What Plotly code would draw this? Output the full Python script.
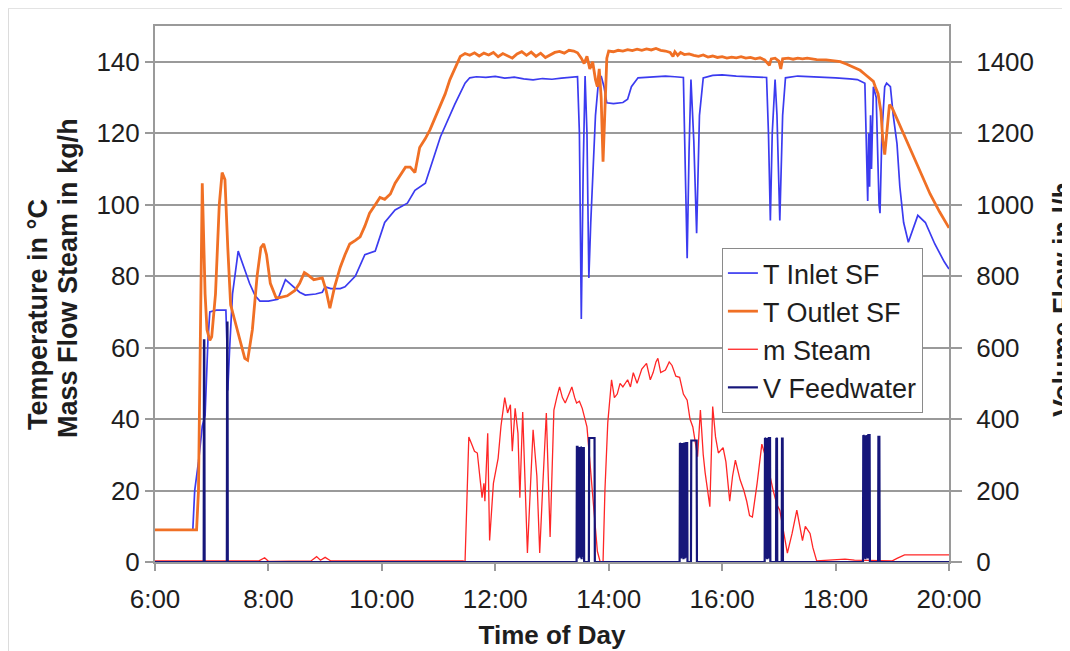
import plotly.graph_objects as go

# ---------------- data ----------------
DAY = "2000-01-01 "

inlet_t = ["06:00", "06:40", "06:42", "06:46", "06:50", "06:53", "06:56", "06:58", "07:05", "07:15",
           "07:16", "07:17", "07:19", "07:22", "07:28", "07:33", "07:40", "07:46", "07:51", "08:00",
           "08:10", "08:18", "08:26", "08:33", "08:39", "08:50", "08:57", "09:00", "09:06", "09:16",
           "09:21", "09:32", "09:42", "09:53", "10:03", "10:14", "10:27", "10:35", "10:46", "10:51",
           "11:02", "11:17", "11:28", "11:33", "11:40", "11:50", "12:00", "12:10", "12:20", "12:30",
           "12:40", "12:50", "13:00", "13:10", "13:20", "13:27", "13:29", "13:31", "13:33", "13:35",
           "13:37", "13:39", "13:41", "13:43", "13:46", "13:49", "13:52", "13:55", "13:58", "14:05",
           "14:15", "14:20", "14:24", "14:31", "14:45", "15:00", "15:10", "15:19", "15:21", "15:23",
           "15:25", "15:27", "15:30", "15:33", "15:36", "15:40", "15:50", "16:00", "16:15", "16:30",
           "16:47", "16:49", "16:51", "16:53", "16:56", "16:58", "17:01", "17:04", "17:07", "17:20",
           "17:40", "18:00", "18:15", "18:23", "18:31", "18:33", "18:34", "18:35", "18:36", "18:37",
           "18:38", "18:40", "18:43", "18:46", "18:47", "18:49", "18:52", "18:54", "18:58", "19:01",
           "19:05", "19:08", "19:12", "19:17", "19:22", "19:27", "19:35", "19:45", "19:55", "20:00"]
inlet_v = [9, 9, 20, 28, 38, 41, 62, 70, 70.5, 70.5,
           62, 48, 60, 75, 87, 83, 78, 74.5, 73, 73,
           73.5, 79, 77, 75.5, 74.7, 75, 75.5, 77, 76.5, 76.5,
           77, 80, 86, 87, 95, 98.5, 100.4, 104, 106, 110,
           119, 128, 134, 135.5, 135.8, 135.6, 135.9, 135.4, 135.7, 135.2,
           134.9, 135.3, 135.1, 135.4, 135.6, 135.8, 120, 68, 110, 136,
           120, 79.5, 95, 106, 125, 134, 136, 133, 128.5, 128.3,
           128.6, 129.5, 133, 135.5, 135.8, 136, 135.8, 135.6, 110, 85,
           115, 135, 118, 92, 125, 135.5, 136.2, 136.3, 136, 135.9,
           135.6, 120, 95.6, 120, 135, 125, 95.6, 125, 135.5, 136,
           135.8, 135.5, 135.2, 135, 134, 110, 101, 120, 105, 125,
           110, 133, 130, 100, 97.6, 120, 133, 134, 133, 125,
           117, 105, 95, 89.5, 93, 97, 95, 89, 84, 82]

outlet_t = ["06:00", "06:44", "06:46", "06:50", "06:53", "06:55", "06:58", "07:00", "07:04", "07:08",
            "07:11", "07:14", "07:17", "07:20", "07:24", "07:30", "07:35", "07:38", "07:43", "07:48",
            "07:52", "07:55", "07:58", "08:02", "08:08", "08:12", "08:20", "08:28", "08:33", "08:38",
            "08:41", "08:48", "08:57", "09:01", "09:05", "09:10", "09:16", "09:21", "09:26", "09:32",
            "09:37", "09:42", "09:47", "09:53", "09:58", "10:03", "10:09", "10:14", "10:19", "10:25",
            "10:30", "10:35", "10:40", "10:46", "10:51", "10:56", "11:02", "11:07", "11:12", "11:17",
            "11:23", "11:28", "11:33", "11:38", "11:43", "11:48", "11:53", "11:58", "12:03", "12:08",
            "12:13", "12:18", "12:23", "12:28", "12:33", "12:38", "12:43", "12:48", "12:53", "12:58",
            "13:03", "13:08", "13:13", "13:18", "13:23", "13:27", "13:31", "13:34", "13:37", "13:40",
            "13:43", "13:46", "13:48", "13:50", "13:52", "13:54", "13:56", "13:58", "14:00", "14:05",
            "14:10", "14:15", "14:20", "14:25", "14:30", "14:35", "14:40", "14:45", "14:50", "14:55",
            "15:00", "15:05", "15:08", "15:10", "15:13", "15:16", "15:20", "15:25", "15:30", "15:35",
            "15:40", "15:45", "15:50", "15:55", "16:00", "16:05", "16:10", "16:15", "16:20", "16:25",
            "16:30", "16:35", "16:40", "16:45", "16:50", "16:52", "16:56", "17:00", "17:02", "17:04",
            "17:10", "17:15", "17:20", "17:25", "17:30", "17:40", "17:50", "18:00", "18:05", "18:12",
            "18:19", "18:26", "18:31", "18:36", "18:40", "18:42", "18:45", "18:48", "18:50", "18:52",
            "18:54", "18:57", "19:00", "19:10", "19:20", "19:30", "19:40", "19:50", "20:00"]
outlet_v = [9, 9, 20, 106, 75, 65, 62, 63, 75, 100,
            109, 107, 88, 72, 68, 62, 57, 56.5, 65, 80,
            88, 89, 86, 78, 74, 74, 74.5, 76, 78, 81,
            80.5, 79, 79.5, 76, 71, 77, 82.5, 86, 89, 90,
            91, 94, 97.6, 100, 102, 101.5, 103, 106, 108, 110.5,
            110.5, 109, 116, 118.5, 121, 124, 128, 131, 135, 138,
            141.5, 142.3, 141.8, 142.5, 141.6, 142.4, 141.9, 142.6, 141.4, 142.3,
            141.7, 141.0, 142.2, 142.8, 141.8, 142.7, 141.5, 142.4, 141.2, 142.0,
            142.6, 142.9, 142.4, 143.2, 143.0, 142.5, 141.0, 139.5, 141.5, 138,
            140, 135, 133, 138, 130, 112, 125, 141, 143, 142.8,
            143.2, 143.0, 143.4, 143.1, 143.5, 143.2, 143.6, 143.3, 143.7, 143.2,
            143.0, 142.6, 141.5, 142.8, 141.8, 142.6, 142.0, 142.2, 141.8, 141.5,
            141.9, 141.3, 141.6, 141.2, 141.4, 141.0, 141.3, 141.1, 141.4, 141.0,
            141.2, 140.8, 141.1, 140.5, 139.0, 140.8, 141.0, 140.2, 138.0, 140.8,
            141.0, 140.7, 141.0, 140.8, 141.0, 140.6, 140.5, 140.3, 140.0, 139.3,
            138.5, 137.6, 136.5, 135.5, 134.5, 133.0, 131, 126, 118, 114,
            120, 128, 127, 121, 115, 109, 103, 98, 93.5]

steam_t = ["06:00", "07:50", "07:56", "08:00", "08:45", "08:51", "08:55", "09:00", "09:06", "11:26",
           "11:28", "11:32", "11:35", "11:38", "11:41", "11:44", "11:46", "11:48", "11:49", "11:52",
           "11:54", "11:58", "12:03", "12:06", "12:10", "12:13", "12:16", "12:18", "12:21", "12:24",
           "12:26", "12:29", "12:31", "12:34", "12:37", "12:40", "12:44", "12:47", "12:50", "12:54",
           "12:58", "13:02", "13:05", "13:08", "13:11", "13:14", "13:18", "13:21", "13:24", "13:26",
           "13:29", "13:32", "13:37", "13:42", "13:48", "13:51", "13:54", "13:56", "13:59", "14:03",
           "14:06", "14:09", "14:12", "14:15", "14:20", "14:23", "14:26", "14:30", "14:35", "14:40",
           "14:44", "14:47", "14:50", "14:52", "14:55", "15:00", "15:04", "15:07", "15:11", "15:15",
           "15:19", "15:23", "15:26", "15:29", "15:32", "15:34", "15:37", "15:40", "15:42", "15:45",
           "15:47", "15:50", "15:53", "15:56", "16:01", "16:04", "16:08", "16:11", "16:14", "16:19",
           "16:23", "16:26", "16:29", "16:32", "16:37", "16:42", "16:47", "16:54", "16:58", "17:01",
           "17:05", "17:09", "17:14", "17:19", "17:25", "17:28", "17:33", "17:36", "17:40", "18:00",
           "18:10", "18:20", "18:30", "19:00", "19:05", "19:13", "20:00"]
steam_v = [0.3, 0.3, 1.2, 0.2, 0.3, 1.5, 0.5, 1.3, 0.3, 0.3,
           0, 35, 33, 31, 30.5, 24, 18, 22, 17, 36,
           6, 22, 29, 38, 46, 41.7, 44, 31, 43, 36,
           18, 42, 25, 2.5, 20, 37, 24, 2.5, 20, 41.7,
           7, 42.5, 46, 49, 46, 44.5, 47, 49, 46, 44.5,
           45, 43, 37.8, 23, 3, 0, 0, 20, 39, 51,
           46, 47, 50, 49, 51, 49, 53, 50, 54, 55.6,
           51, 53, 56, 57, 53, 53.7, 56, 55, 52, 51.7,
           47, 45.3, 40, 37.8, 33, 29.5, 42.5, 30, 25, 20,
           15.5, 43.5, 35, 30.5, 32, 28, 17, 24, 28.5, 23,
           20, 17, 13, 12.6, 22, 33, 28.5, 20, 16, 14.5,
           8, 2.5, 8, 14.5, 6, 10, 8, 4, 0.3, 0.5,
           0.8, 0.5, 0.5, 0.3, 1, 2, 2]

feed_t = ["06:00:00", "06:51:30", "06:51:50", "06:52:10", "06:52:30", "07:16:00", "07:16:20", "07:16:40", "07:17:00",
          "13:26:00", "13:26:20", "13:27:00", "13:27:20", "13:27:40", "13:28:20", "13:28:40", "13:29:00", "13:29:40",
          "13:30:00", "13:30:20", "13:31:00", "13:31:20", "13:31:40", "13:32:20", "13:32:40", "13:33:00", "13:33:40",
          "13:34:00", "13:39:00", "13:39:20", "13:45:00", "13:45:20",
          "15:15:00", "15:15:20", "15:16:00", "15:16:20", "15:16:40", "15:17:20", "15:17:40", "15:18:00", "15:18:40",
          "15:19:00", "15:19:20", "15:20:00", "15:20:20", "15:20:40", "15:21:20", "15:21:40", "15:22:00", "15:23:00",
          "15:23:20", "15:27:00", "15:27:20", "15:33:00", "15:33:20",
          "16:45:00", "16:45:20", "16:46:00", "16:46:20", "16:46:40", "16:47:20", "16:47:40", "16:48:00", "16:48:40",
          "16:49:00", "16:49:20", "16:50:40", "16:51:00", "16:57:00", "16:57:20", "16:58:00", "16:58:20",
          "17:03:00", "17:03:20", "17:04:00", "17:04:20",
          "18:29:00", "18:29:20", "18:30:00", "18:30:20", "18:30:40", "18:31:20", "18:31:40", "18:32:00", "18:32:40",
          "18:33:00", "18:33:20", "18:34:00", "18:34:20", "18:34:40", "18:36:00", "18:36:20",
          "18:45:00", "18:45:20", "18:46:20", "18:46:40", "20:00:00"]
feed_v = [0, 0, 620, 620, 0, 0, 670, 670, 0,
          0, 322, 322, 10, 318, 322, 15, 320, 322,
          12, 322, 320, 8, 322, 322, 14, 320, 322,
          0, 0, 347, 347, 0,
          0, 333, 330, 10, 333, 333, 12, 330, 333,
          8, 333, 331, 10, 333, 333, 12, 333, 333,
          0, 0, 340, 340, 0,
          0, 347, 345, 10, 347, 347, 8, 345, 347,
          10, 347, 347, 0, 0, 347, 345, 0,
          0, 345, 345, 0,
          0, 355, 352, 10, 355, 355, 8, 352, 355,
          12, 355, 353, 10, 355, 355, 0,
          0, 350, 350, 0, 0]

left_ticks = [0, 20, 40, 60, 80, 100, 120, 140]
right_ticks = [0, 200, 400, 600, 800, 1000, 1200, 1400]


def ts(lst):
    return [DAY + t for t in lst]


FONT = "Liberation Sans, Arial, sans-serif"
GRID = "#9a9a9a"
TXT = "#1e1e1e"

fig = go.Figure()
fig.add_trace(go.Scatter(x=ts(inlet_t), y=inlet_v, name="T Inlet SF", mode="lines",
                         line=dict(color="#3B3BF0", width=1.7)))
fig.add_trace(go.Scatter(x=ts(outlet_t), y=outlet_v, name="T Outlet SF", mode="lines",
                         line=dict(color="#F07025", width=2.8)))
fig.add_trace(go.Scatter(x=ts(steam_t), y=steam_v, name="m Steam", mode="lines",
                         line=dict(color="#FF2626", width=1.3)))
fig.add_trace(go.Scatter(x=ts(feed_t), y=feed_v, name="V Feedwater", mode="lines", yaxis="y2",
                         line=dict(color="#16167A", width=2.2)))

# the page body adds an 8 px margin, so the figure is 8 px smaller and shifted
fig.update_layout(
    width=1062, height=643,
    margin=dict(l=147, r=121, t=18, b=89, autoexpand=False),
    paper_bgcolor="white", plot_bgcolor="white",
    font=dict(family=FONT, color=TXT, size=26),
    showlegend=True,
    legend=dict(x=0.714, y=0.5858, xanchor="left", yanchor="top",
                bgcolor="white", bordercolor="#8a8a8a", borderwidth=1,
                font=dict(family=FONT, size=27, color=TXT),
                itemwidth=30, tracegroupgap=0),
    xaxis=dict(type="date", range=[DAY + "06:00", DAY + "20:00"],
               tick0=DAY + "06:00", dtick=7200000, tickformat="%-H:%M",
               ticks="outside", ticklen=7, tickwidth=1.5, tickcolor=GRID,
               ticklabelstandoff=6, automargin=False,
               showline=True, linecolor=GRID, linewidth=2, mirror=True,
               showgrid=False, zeroline=False,
               tickfont=dict(size=26, family=FONT, color=TXT),
               title=dict(text="<b>Time of Day</b>", font=dict(size=26, family=FONT, color=TXT),
                          standoff=13)),
    yaxis=dict(range=[0, 150], tickvals=left_ticks, automargin=False,
               ticks="outside", ticklen=8, tickwidth=1.5, tickcolor=GRID,
               showline=True, linecolor=GRID, linewidth=2, mirror=True,
               showgrid=True, gridcolor=GRID, gridwidth=2, zeroline=False,
               tickfont=dict(size=26, family=FONT, color=TXT)),
    yaxis2=dict(range=[0, 1500], tickvals=right_ticks, overlaying="y", side="right",
                automargin=False,
                ticks="outside", ticklen=12, tickwidth=1.5, tickcolor=GRID,
                ticklabelstandoff=9,
                showline=False, showgrid=False, zeroline=False,
                tickfont=dict(size=26, family=FONT, color=TXT)),
    annotations=[
        dict(text="<b>Temperature in °C</b>", xref="paper", yref="paper",
             x=-0.1474, y=0.4627, xanchor="center", yanchor="middle", textangle=-90,
             showarrow=False, font=dict(size=27, family=FONT, color=TXT)),
        dict(text="<b>Mass Flow Steam in kg/h</b>", xref="paper", yref="paper",
             x=-0.1096, y=0.5299, xanchor="center", yanchor="middle", textangle=-90,
             showarrow=False, font=dict(size=27, family=FONT, color=TXT)),
        dict(text="<b>Volume Flow in l/h</b>", xref="paper", yref="paper",
             x=1.1436, y=0.4888, xanchor="center", yanchor="middle", textangle=-90,
             showarrow=False, font=dict(size=27, family=FONT, color=TXT)),
    ],
    shapes=[
        dict(type="rect", xref="paper", yref="paper",
             x0=-0.1845, x1=1.2, y0=-0.25, y1=1.033,
             line=dict(color="#dcdcdc", width=1), fillcolor="rgba(0,0,0,0)", layer="below"),
    ],
)

fig.write_html("out.html")
